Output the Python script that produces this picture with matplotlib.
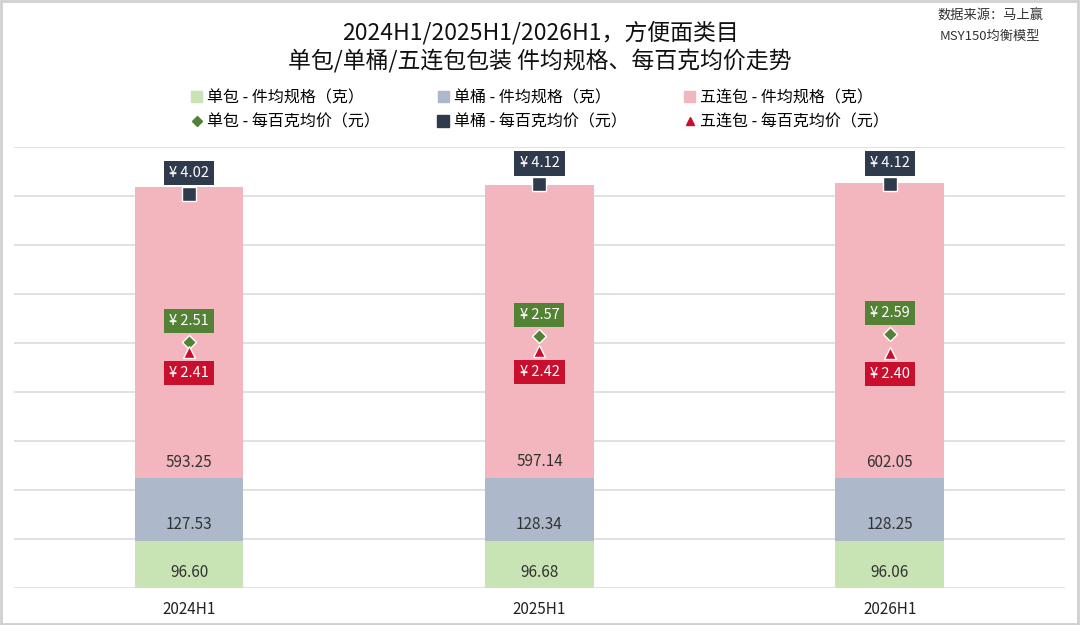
import numpy as np
import matplotlib.pyplot as plt
from matplotlib.patches import Rectangle
from matplotlib.lines import Line2D

plt.rcParams['font.family'] = ['Noto Sans CJK SC', 'DejaVu Sans']

# data
periods = ['2024H1', '2025H1', '2026H1']
size_single = [96.60, 96.68, 96.06]
size_bucket = [127.53, 128.34, 128.25]
size_five = [593.25, 597.14, 602.05]
price_single = [2.51, 2.57, 2.59]
price_bucket = [4.02, 4.12, 4.12]
price_five = [2.41, 2.42, 2.40]

c_single = '#c9e4b4'
c_bucket = '#adb9cb'
c_five = '#f4b6be'
m_single = '#548235'
m_bucket = '#2f3a4d'
m_five = '#c8102e'

fig = plt.figure(figsize=(10.8, 6.25), dpi=100)
ax = fig.add_axes([0.013, 0.0592, 0.973, 0.7056])
x = np.arange(len(periods))
w = 0.31

b1 = np.array(size_single)
b2 = b1 + np.array(size_bucket)
ax.bar(x, size_single, w, color=c_single, zorder=2)
ax.bar(x, size_bucket, w, bottom=b1, color=c_bucket, zorder=2)
ax.bar(x, size_five, w, bottom=b2, color=c_five, zorder=2)

for i in range(len(x)):
    for bot, val in [(0, size_single[i]), (b1[i], size_bucket[i]), (b2[i], size_five[i])]:
        ax.annotate(f'{val:.2f}', (x[i], bot), xytext=(0, 11.5), textcoords='offset points',
                    ha='center', va='center', fontsize=11, color='#333333', zorder=3)

ax.set_xlim(-0.5, 2.5)
ax.set_ylim(0, 900)
ax.set_yticks(np.arange(0, 901, 100))
ax.set_yticklabels([])
ax.yaxis.grid(True, color='#dcdcdc', linewidth=1.2, zorder=0)
ax.set_axisbelow(True)
ax.set_xticks(x)
ax.set_xticklabels(periods, fontsize=11, color='#222222')
ax.tick_params(length=0, pad=9)
for s in ax.spines.values():
    s.set_visible(False)

ax2 = ax.twinx()
ax2.set_ylim(0, 4.5)
ax2.axis('off')
ax2.plot(x, price_single, 'D', ms=7, color=m_single, mec='white', mew=1, ls='none', zorder=5)
ax2.plot(x, price_five, '^', ms=8.5, color=m_five, mec='white', mew=1, ls='none', zorder=5)
ax2.plot(x, price_bucket, 's', ms=9.5, color=m_bucket, mec='white', mew=1, ls='none', zorder=5)

def price_label(xi, yi, col, dy):
    ax2.annotate(f'¥ {yi:.2f}', (xi, yi), xytext=(0, dy), textcoords='offset points',
                 ha='center', va='center', fontsize=10.5, color='white', zorder=6,
                 bbox=dict(boxstyle='square,pad=0.35', fc=col, ec='none'))

for i in range(len(x)):
    price_label(x[i], price_bucket[i], m_bucket, 15)
    price_label(x[i], price_single[i], m_single, 15)
    price_label(x[i], price_five[i], m_five, -15.5)

# legend
handles = [
    Rectangle((0, 0), 1, 1, color=c_single),
    Line2D([], [], marker='D', color=m_single, ls='none', ms=5),
    Rectangle((0, 0), 1, 1, color=c_bucket),
    Line2D([], [], marker='s', color=m_bucket, ls='none', ms=8),
    Rectangle((0, 0), 1, 1, color=c_five),
    Line2D([], [], marker='^', color=m_five, ls='none', ms=6),
]
labels = ['单包 - 件均规格（克）', '单包 - 每百克均价（元）',
          '单桶 - 件均规格（克）', '单桶 - 每百克均价（元）',
          '五连包 - 件均规格（克）', '五连包 - 每百克均价（元）']
fig.legend(handles, labels, ncol=3, loc='center', bbox_to_anchor=(0.5, 0.824),
           frameon=False, fontsize=11.5, handlelength=0.7, handleheight=0.7,
           handletextpad=0.3, columnspacing=3.6, labelspacing=0.45)

fig.text(0.5, 0.947, '2024H1/2025H1/2026H1，方便面类目', ha='center', va='center', fontsize=16.5, color='#111111')
fig.text(0.5, 0.903, '单包/单桶/五连包包装 件均规格、每百克均价走势', ha='center', va='center', fontsize=16.5, color='#111111')
fig.text(0.917, 0.974, '数据来源：马上赢', ha='center', va='center', fontsize=9.5, color='#333333')
fig.text(0.917, 0.941, 'MSY150均衡模型', ha='center', va='center', fontsize=9.5, color='#333333')

fig.patches.append(Rectangle((0.001, 0.002), 0.997, 0.996, transform=fig.transFigure,
                             fill=False, ec='#d0d0d0', lw=2))

fig.savefig('out.png', dpi=100)
